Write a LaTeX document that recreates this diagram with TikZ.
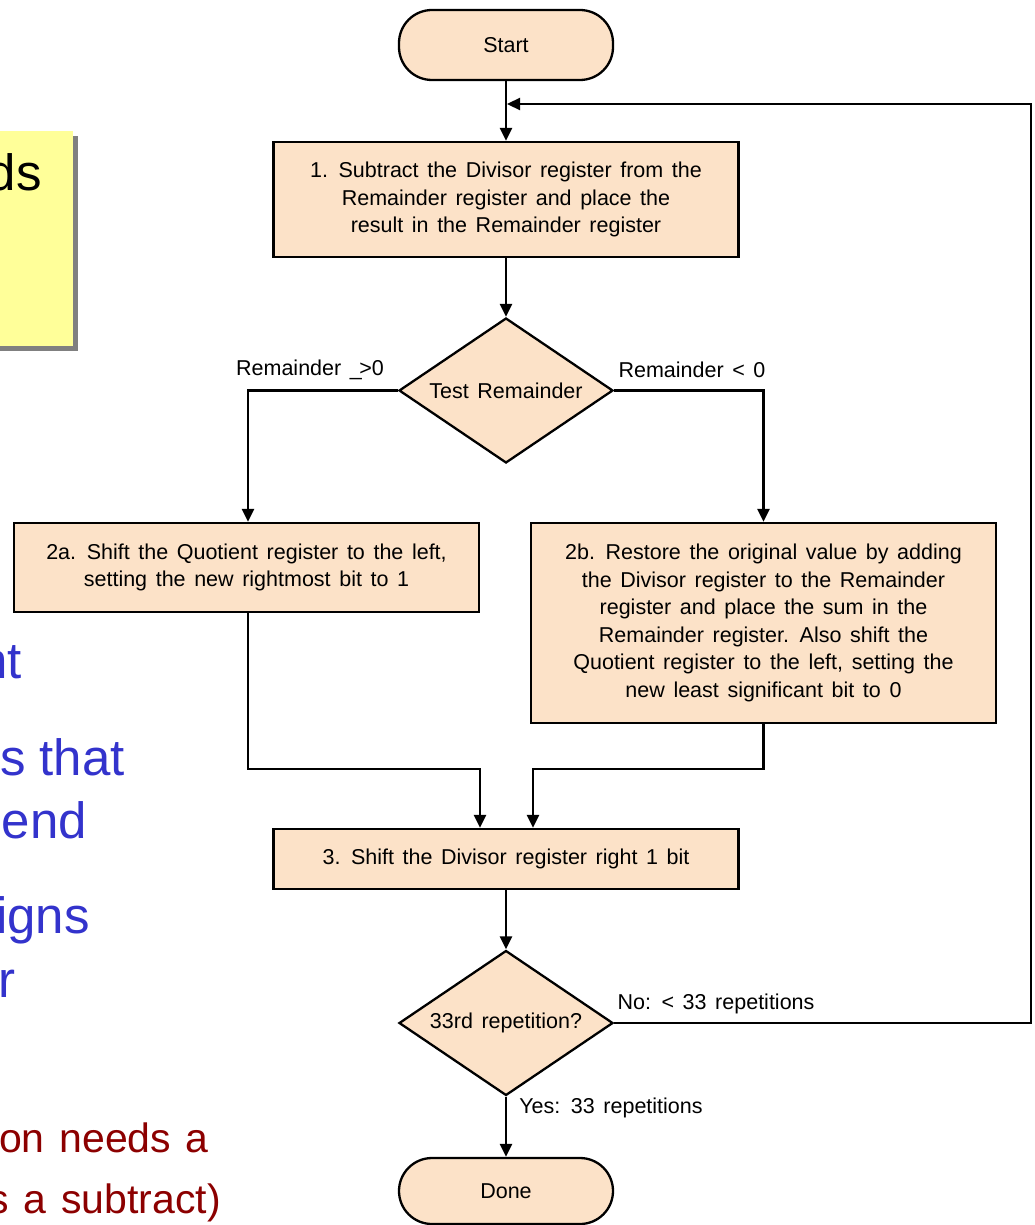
\documentclass[tikz,border=0pt]{standalone}
\usepackage{fontspec}
\setmainfont{Liberation Sans}
\usetikzlibrary{shapes.geometric,arrows.meta}
\definecolor{peach}{RGB}{252,226,200}
\definecolor{notefill}{RGB}{255,255,153}
\definecolor{noteshadow}{RGB}{128,128,128}
\definecolor{bodyblue}{RGB}{51,51,204}
\definecolor{bodyred}{RGB}{140,0,0}
% font set-ups for the chart text and the large body text
\newcommand\chartfont{\fontsize{21.5}{27.6}\selectfont\spaceskip=0.40em plus 0.1em minus 0.05em\relax}
\newcommand\bodyfont{\fontsize{51}{63}\selectfont}
\newcommand\notefont{\fontsize{41}{61}\selectfont\spaceskip=0.36em\relax}
\begin{document}
\begin{tikzpicture}[x=1pt,y=-1pt,
  flowtext/.style={font=\chartfont},
  proc/.style={flowtext, draw=black, line width=2.3pt, fill=peach, align=center, inner sep=0pt},
  term/.style={proc, rounded corners=33pt, minimum width=214, minimum height=70},
  decide/.style={flowtext, draw=black, line width=2.3pt, fill=peach, shape=diamond, aspect=1.476,
    minimum width=214, minimum height=145, inner sep=0pt},
  arr/.style={line width=2.3pt, -{Triangle[length=13pt,width=12pt]}},
  lbl/.style={flowtext},
  bigblue/.style={font=\bodyfont, text=bodyblue, inner sep=0pt, anchor=base east},
  bigred/.style={font=\notefont, text=bodyred, inner sep=0pt, anchor=base east}
]
\useasboundingbox (0,0) rectangle (1035,1225);

% note card on the left, with its drop shadow
\fill[noteshadow] (-10,136) rectangle (78,351);
\fill[notefill] (-10,131) rectangle (73,346);
\node[font=\bodyfont, inner sep=0pt, anchor=base east] (notetext) at (42,190) {ds};

% ends of the body text lines
\node[bigblue] (l1) at (22,678) {nt};
\node[bigblue] (l2) at (125,775) {s that};
\node[bigblue] (l3) at (87,838) {end};
\node[bigblue] (l4) at (90,933) {igns};
\node[bigblue] (l5) at (16,997) {r};
\node[bigred] (l6) at (209,1152) {on needs a};
\node[bigred] (l7) at (221,1213) {s a subtract)};

% flowchart nodes
\node[term] (start) at (506,45) {Start};
\node[proc, minimum width=465, minimum height=115] (box1) at (506,199.5)
  {1. Subtract the Divisor register from the\\Remainder register and place the\\result in the Remainder register};
\node[decide] (d1) at (506,390.5) {Test Remainder};
\node[proc, minimum width=465, minimum height=89] (box2a) at (246.5,567.5)
  {2a. Shift the Quotient register to the left,\\setting the new rightmost bit to 1};
\node[proc, minimum width=465, minimum height=200] (box2b) at (763.5,623)
  {2b. Restore the original value by adding\\the Divisor register to the Remainder\\register and place the sum in the\\Remainder register. Also shift the\\Quotient register to the left, setting the\\new least significant bit to 0};
\node[proc, minimum width=465, minimum height=60] (box3) at (506,859)
  {3. Shift the Divisor register right 1 bit};
\node[decide] (d2) at (506,1023) {33rd repetition?};
\node[term, minimum height=66] (done) at (506,1191) {Done};

% connectors
\coordinate (loopright) at (1031,104);
\coordinate (loopin) at (507,104);

\draw[arr] (start.south) -- (box1.north);
\draw[arr] (box1.south) -- (d1.north);
\draw[arr] (d1.west) -| ([xshift=1.5pt]box2a.north);
\draw[arr] (d1.east) -| (box2b.north);
\draw[arr] ([xshift=1.5pt]box2a.south) -- ++(0,156) -| ([xshift=-26pt]box3.north);
\draw[arr] (box2b.south) -- ++(0,45) -| ([xshift=27pt]box3.north);
\draw[arr] (box3.south) -- (d2.north);
\draw[arr] (d2.south) -- (done.north);
\draw[arr] (d2.east) -| (loopright) -- (loopin);

% branch labels
\node[lbl] (lge) at (310,370) {Remainder\ \_\kern-2.5pt>0};
\node[lbl] (llt) at (692,370) {Remainder < 0};
\node[lbl] (lno) at (716,1004) {No: < 33 repetitions};
\node[lbl] (lyes) at (611,1108) {Yes: 33 repetitions};
\end{tikzpicture}
\end{document}
